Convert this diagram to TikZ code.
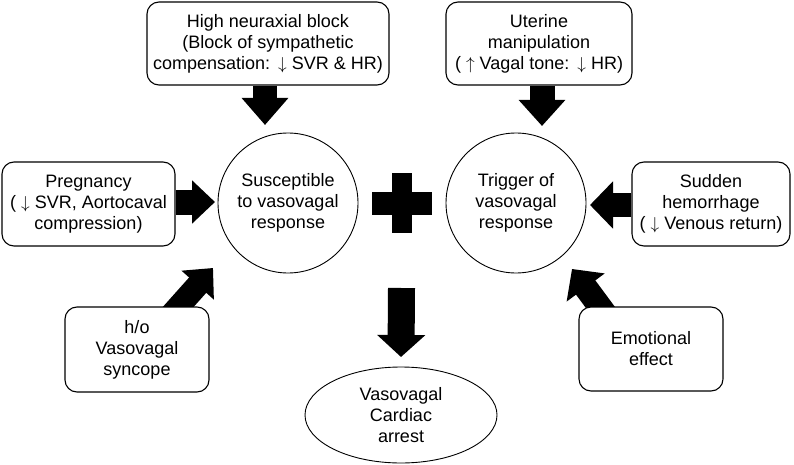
\documentclass[tikz,border=0pt]{standalone}
\usepackage{fontspec}
\setmainfont{Liberation Sans}
\usetikzlibrary{arrows.meta,shapes.geometric,backgrounds}
\begin{document}
\begin{tikzpicture}[x=1pt,y=-1pt,
  txt/.style={align=center, inner sep=0pt, font=\fontsize{18}{21}\selectfont},
  box/.style n args={2}{txt, draw, line width=1.1pt, rounded corners=12pt, fill=white,
    minimum width=#1, minimum height=#2},
  circ/.style={txt, draw, line width=0.9pt, circle, minimum size=140pt, fill=white},
  ell/.style={txt, draw, line width=0.9pt, ellipse, minimum width=192pt, minimum height=96pt, fill=white},
  bar/.style={fill=black, inner sep=0pt},
  fat/.style n args={3}{line width=#1, draw=black, -{Triangle[length=#3,width=#2]}}]
\useasboundingbox (0,0) rectangle (794,465);

\node[box={242pt}{83pt}] (hnb) at (268,43.5) {High neuraxial block\\(Block of sympathetic\\compensation:~\,$\downarrow$ SVR \& HR)};
\node[box={186pt}{83pt}] (ut) at (539,43.5) {Uterine\\manipulation\\( $\uparrow$ Vagal tone:~\,$\downarrow$ HR)};
\node[box={173pt}{84pt}] (preg) at (88.5,204) {Pregnancy\\( $\downarrow$ SVR, Aortocaval\\compression)};
\node[box={158pt}{84pt}] (hem) at (711,204) {Sudden\\hemorrhage\\( $\downarrow$ Venous return)};
\node[box={144pt}{85pt}] (ho) at (137,349.5) {h/o\\Vasovagal\\syncope};
\node[box={144pt}{84pt}] (emo) at (651,349) {Emotional\\effect};
\node[circ] (sus) at (288,203) {Susceptible\\to vasovagal\\response};
\node[circ] (trig) at (516,203) {Trigger of\\vasovagal\\response};
\node[ell] (vca) at (401,415) {Vasovagal\\Cardiac\\arrest};

\node[bar, minimum width=60pt, minimum height=23pt] (plush) at (402,203.5) {};
\node[bar, minimum width=20pt, minimum height=60pt] (plusv) at (402,203) {};

\coordinate (t1) at (265,125);
\coordinate (t2) at (542,126);
\coordinate (t3) at (215,202);
\coordinate (t4) at (590,205);
\coordinate (t5) at (213,268);
\coordinate (s5) at (171,315);
\coordinate (t6) at (572,269);
\coordinate (s6) at (606,315);
\coordinate (s7) at (401.5,288);

\begin{pgfonlayer}{background}
\draw[fat={24pt}{45pt}{27pt}] (hnb.south -| t1) -- (t1);
\draw[fat={25pt}{45pt}{26pt}] (ut.south -| t2) -- (t2);
\draw[fat={25pt}{42pt}{23pt}] (preg.east |- t3) -- (t3);
\draw[fat={24pt}{46pt}{23pt}] (hem.west |- t4) -- (t4);
\draw[fat={23pt}{42pt}{23pt}] (s5) -- (t5);
\draw[fat={24pt}{46pt}{23pt}] (s6) -- (t6);
\draw[fat={27pt}{47pt}{22pt}] (s7) -- (vca.north |- 0,357);
\end{pgfonlayer}
\end{tikzpicture}
\end{document}
